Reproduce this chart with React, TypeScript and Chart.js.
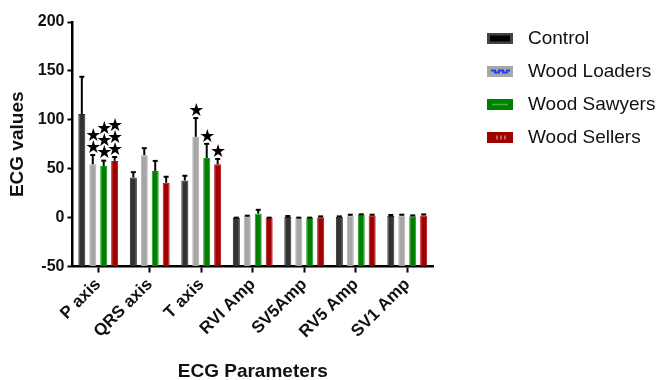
import React, { useEffect, useRef } from "react";
import { Chart, registerables } from "chart.js";

Chart.register(...registerables);

const categories = ["P axis", "QRS axis", "T axis", "RVI Amp", "SV5Amp", "RV5 Amp", "SV1 Amp"];
const seriesNames = ["Control", "Wood Loaders", "Wood Sawyers", "Wood Sellers"];
const control = [106, 41, 38, 0, 0.7, 1, 1.7];
const controlErr = [38, 5.5, 4.8, 0, 1, 0.3, 1];
const loaders = [54.5, 63.8, 82.6, 1.3, 0, 2, 2.3];
const loadersErr = [9.5, 7.2, 19.2, 0.7, 0, 1, 0.7];
const sawyers = [52.8, 47.6, 61, 4, 0, 2.7, 1.3];
const sawyersErr = [5.5, 10.4, 14.4, 4, 0, 0.7, 1];
const sellers = [58, 35.6, 54.5, 0, 0.3, 2.3, 2.3];
const sellersErr = [4, 6.2, 5.5, 0, 1, 0.7, 1];
const loadersStars = [2, 0, 1, 0, 0, 0, 0];
const sawyersStars = [3, 0, 1, 0, 0, 0, 0];
const sellersStars = [3, 0, 1, 0, 0, 0, 0];
const yTicks = [-50, 0, 50, 100, 150, 200];

const fills = ["#333333", "#a6a6a6", "#008000", "#a00000"];
const borders = ["#222222", "#b0b0b0", "#1a9a1a", "#b01010"];
const legendInner = ["#000000", "#1f3fff", "#33bb33", "#d08080"];

const errorsAll = [controlErr, loadersErr, sawyersErr, sellersErr];
const starsAll = [null, loadersStars, sawyersStars, sellersStars];

const errorPlugin = {
  id: "errs",
  afterDatasetsDraw(chart: any) {
    const ctx = chart.ctx;
    const y = chart.scales.y;
    chart.data.datasets.forEach((ds: any, di: number) => {
      const meta = chart.getDatasetMeta(di);
      meta.data.forEach((bar: any, i: number) => {
        const v = ds.data[i];
        const e = errorsAll[di][i];
        const x = bar.x;
        const top = y.getPixelForValue(v + e);
        const yv = y.getPixelForValue(v);
        ctx.save();
        ctx.strokeStyle = "#000";
        ctx.lineWidth = 2;
        if (e > 0) {
          ctx.beginPath();
          ctx.moveTo(x, yv);
          ctx.lineTo(x, top);
          ctx.stroke();
        }
        ctx.beginPath();
        ctx.moveTo(x - 2.5, top);
        ctx.lineTo(x + 2.5, top);
        ctx.stroke();
        const st = starsAll[di];
        if (st && st[i] > 0) {
          ctx.fillStyle = "#000";
          ctx.font = "bold 18px 'DejaVu Sans'";
          ctx.textAlign = "center";
          ctx.textBaseline = "middle";
          for (let k = 0; k < st[i]; k++) {
            ctx.fillText("★", x + 0.5, top - 7 - k * 12);
          }
        }
        ctx.restore();
      });
    });
  },
};

const legendPlugin = {
  id: "customLegend",
  afterDraw(chart: any) {
    const ctx = chart.ctx;
    const x0 = 487;
    const y0 = 38.5;
    const step = 33;
    chart.data.datasets.forEach((ds: any, di: number) => {
      const cy = y0 + di * step;
      ctx.save();
      ctx.fillStyle = di === 0 ? "#444444" : ds.backgroundColor;
      ctx.fillRect(x0, cy - 5.5, 26, 11);
      ctx.fillStyle = di === 0 ? "#000" : ds.backgroundColor;
      ctx.fillRect(x0 + 3, cy - 3, 20, 6);
      ctx.strokeStyle = legendInner[di];
      ctx.lineWidth = di === 1 ? 2 : 1.5;
      ctx.beginPath();
      if (di === 1) {
        ctx.moveTo(x0 + 4, cy - 1);
        ctx.lineTo(x0 + 8, cy - 1);
        ctx.lineTo(x0 + 8, cy + 1);
        ctx.lineTo(x0 + 12, cy + 1);
        ctx.lineTo(x0 + 12, cy - 1);
        ctx.lineTo(x0 + 16, cy - 1);
        ctx.lineTo(x0 + 16, cy + 1);
        ctx.lineTo(x0 + 20, cy + 1);
        ctx.lineTo(x0 + 20, cy - 1);
        ctx.lineTo(x0 + 23, cy - 1);
        ctx.stroke();
      } else if (di === 2) {
        ctx.moveTo(x0 + 5, cy);
        ctx.lineTo(x0 + 21, cy);
        ctx.stroke();
      } else if (di === 3) {
        [x0 + 10, x0 + 14, x0 + 18].forEach((xx) => {
          ctx.moveTo(xx, cy - 2);
          ctx.lineTo(xx, cy + 2);
        });
        ctx.stroke();
      }
      ctx.fillStyle = "#111";
      ctx.font = "19px 'Liberation Sans', Arial, sans-serif";
      ctx.textAlign = "left";
      ctx.textBaseline = "middle";
      ctx.fillText(ds.label, 528, cy + 0.5);
      ctx.restore();
    });
  },
};

export default function App() {
  const ref = useRef<HTMLCanvasElement>(null);
  useEffect(() => {
    if (!ref.current) return;
    const values = [control, loaders, sawyers, sellers];
    const chart = new Chart(ref.current, {
      type: "bar",
      data: {
        labels: categories,
        datasets: seriesNames.map((name, i) => ({
          label: name,
          data: values[i],
          backgroundColor: fills[i],
          borderColor: borders[i],
          borderWidth: 1,
          base: -50,
          categoryPercentage: 0.85,
          barPercentage: 0.64,
        })) as any,
      },
      options: {
        animation: false,
        responsive: false,
        maintainAspectRatio: false,
        layout: { padding: { top: 22, right: 229, left: 6, bottom: 0 } },
        plugins: {
          legend: { display: false },
          tooltip: { enabled: false },
        },
        scales: {
          x: {
            grid: {
              display: true,
              drawOnChartArea: false,
              drawTicks: true,
              tickLength: 6,
              tickWidth: 2,
              tickColor: "#000",
              offset: false,
            },
            border: { display: true, color: "#000", width: 2.5 },
            ticks: {
              color: "#111",
              font: { family: "'Liberation Sans', Arial, sans-serif", size: 17, weight: "bold" },
              minRotation: 45,
              maxRotation: 45,
              padding: 2,
            },
            title: {
              display: true,
              text: "ECG Parameters",
              color: "#111",
              font: { family: "'Liberation Sans', Arial, sans-serif", size: 19, weight: "bold" },
              padding: { top: 16, bottom: -3 },
            },
          },
          y: {
            min: -50,
            max: 200,
            afterBuildTicks: (axis: any) => {
              axis.ticks = yTicks.map((v) => ({ value: v }));
            },
            grid: {
              display: true,
              drawOnChartArea: false,
              drawTicks: true,
              tickLength: 5,
              tickWidth: 2,
              tickColor: "#000",
            },
            border: { display: true, color: "#000", width: 2.5 },
            ticks: {
              color: "#111",
              font: { family: "'Liberation Sans', Arial, sans-serif", size: 16, weight: "bold" },
              padding: 3,
            },
            title: {
              display: true,
              text: "ECG values",
              color: "#111",
              font: { family: "'Liberation Sans', Arial, sans-serif", size: 19, weight: "bold" },
              padding: { top: 0, bottom: 6 },
            },
          },
        },
      },
      plugins: [errorPlugin, legendPlugin],
    });
    return () => chart.destroy();
  }, []);
  return (
    <div style={{ position: "absolute", left: 0, top: 0, width: 662, height: 380, background: "#fff" }}>
      <canvas ref={ref} width={662} height={380} style={{ width: 662, height: 380 }} />
    </div>
  );
}
